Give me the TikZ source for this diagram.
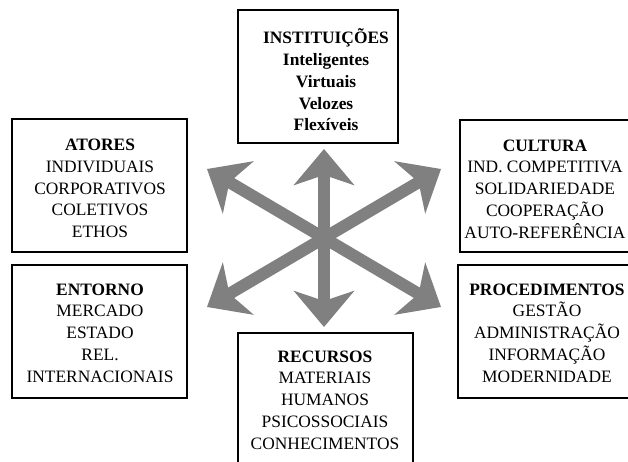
\documentclass[tikz,border=0pt]{standalone}
\usepackage{fontspec}
\setmainfont{Liberation Serif}
\usetikzlibrary{arrows.meta}
\definecolor{arrowgray}{RGB}{128,128,128}
\begin{document}
\begin{tikzpicture}[x=1pt,y=-1pt,
  box/.style={draw=black,line width=1.6pt,fill=white,inner sep=0pt},
  txt/.style={align=center,inner sep=0pt,font=\fontsize{17.4}{21.75}\selectfont},
  bigarrow/.style={draw=arrowgray,line width=12pt,-{Stealth[length=36pt,width=60pt,inset=10pt]}}]
\clip (0,0) rectangle (628,462);
\fill[white] (0,0) rectangle (628,462);
% boxes
\node[box,minimum width=160pt,minimum height=133pt] (bInst) at (318,76.5) {};
\node[box,minimum width=175pt,minimum height=133pt] (bAtores) at (99.5,185.5) {};
\node[box,minimum width=175pt,minimum height=133pt] (bEntorno) at (99.5,331.5) {};
\node[box,minimum width=180pt,minimum height=132pt] (bCultura) at (550,186) {};
\node[box,minimum width=182pt,minimum height=133pt] (bProc) at (549,331.5) {};
\node[box,minimum width=175pt,minimum height=137pt] (bRec) at (325.5,401.5) {};
% texts
\node[txt,font=\fontsize{17.4}{21.75}\selectfont\bfseries] (tInst) at (326,80)
  {INSTITUIÇÕES\\Inteligentes\\Virtuais\\Velozes\\Flexíveis};
\node[txt] (tAtores) at (100,188.5)
  {\textbf{ATORES}\\INDIVIDUAIS\\CORPORATIVOS\\COLETIVOS\\ETHOS};
\node[txt] (tCultura) at (545,189)
  {\textbf{CULTURA}\\IND. COMPETITIVA\\SOLIDARIEDADE\\COOPERAÇÃO\\AUTO-REFERÊNCIA};
\node[txt] (tEntorno) at (100,333)
  {\textbf{ENTORNO}\\MERCADO\\ESTADO\\REL.\\INTERNACIONAIS};
\node[txt] (tProc) at (547,333)
  {\textbf{PROCEDIMENTOS}\\GESTÃO\\ADMINISTRAÇÃO\\INFORMAÇÃO\\MODERNIDADE};
\node[txt] (tRec) at (325,400)
  {\textbf{RECURSOS}\\MATERIAIS\\HUMANOS\\PSICOSSOCIAIS\\CONHECIMENTOS};
% arrows
\coordinate (c) at (324,238);
\coordinate (aU) at (324,149);
\coordinate (aD) at (324,327);
\coordinate (aUL) at (207,169);
\coordinate (aUR) at (441,169);
\coordinate (aLL) at (207,307);
\coordinate (aLR) at (441,307);
\draw[bigarrow] (c) -- (aU);
\draw[bigarrow] (c) -- (aD);
\draw[bigarrow] (c) -- (aUL);
\draw[bigarrow] (c) -- (aUR);
\draw[bigarrow] (c) -- (aLL);
\draw[bigarrow] (c) -- (aLR);
\end{tikzpicture}
\end{document}
